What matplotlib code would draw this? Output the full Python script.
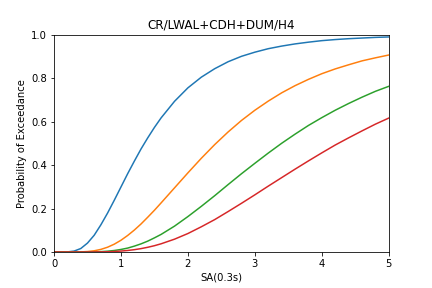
import numpy as np
from matplotlib import pyplot as plt

# intensity measure values (x axis), finer where the curves bend
sa = [0.0, 0.1, 0.2, 0.3, 0.4, 0.5, 0.6, 0.7, 0.8, 0.9, 1.0, 1.1, 1.2,
      1.3, 1.4, 1.5, 1.6, 1.8, 2.0, 2.2, 2.4, 2.6, 2.8, 3.0, 3.2, 3.4,
      3.6, 3.8, 4.0, 4.2, 4.4, 4.6, 4.8, 5.0]

# exceedance probabilities, one list per damage state
p_slight = [0.0, 0.0, 0.0004, 0.0042, 0.016, 0.041, 0.077, 0.125, 0.179,
            0.238, 0.299, 0.360, 0.418, 0.474, 0.525, 0.573, 0.617,
            0.693, 0.755, 0.804, 0.843, 0.875, 0.900, 0.919, 0.935, 0.947,
            0.957, 0.965, 0.972, 0.977, 0.981, 0.984, 0.987, 0.989]
p_moderate = [0.0, 0.0, 0.0, 0.0, 0.0005, 0.0021, 0.0056, 0.012, 0.022,
              0.036, 0.054, 0.076, 0.101, 0.129, 0.160, 0.192, 0.226,
              0.295, 0.364, 0.431, 0.494, 0.552, 0.605, 0.652, 0.694, 0.732,
              0.765, 0.794, 0.820, 0.842, 0.861, 0.879, 0.893, 0.906]
p_extensive = [0.0, 0.0, 0.0, 0.0, 0.0, 0.0002, 0.0007, 0.0017, 0.0037,
               0.0069, 0.0117, 0.018, 0.027, 0.0375, 0.050, 0.065, 0.081,
               0.119, 0.163, 0.210, 0.259, 0.310, 0.360, 0.408, 0.455, 0.500,
               0.542, 0.582, 0.618, 0.652, 0.683, 0.712, 0.739, 0.762]
p_complete = [0.0, 0.0, 0.0, 0.0, 0.0, 0.0001, 0.0002, 0.0005, 0.0012,
              0.0024, 0.0043, 0.007, 0.0107, 0.0156, 0.0217, 0.029, 0.0378,
              0.059, 0.085, 0.116, 0.149, 0.186, 0.224, 0.263, 0.303, 0.342,
              0.381, 0.419, 0.456, 0.492, 0.525, 0.557, 0.588, 0.616]

fig = plt.figure(figsize=(6, 4), dpi=72)
ax = fig.add_subplot(111)
fig.subplots_adjust(bottom=0.125)

for p in [p_slight, p_moderate, p_extensive, p_complete]:
    ax.plot(sa, p)

ax.set_xlim(0, 5)
ax.set_ylim(0, 1)
ax.set_title('CR/LWAL+CDH+DUM/H4')
ax.set_xlabel('SA(0.3s)')
ax.set_ylabel('Probability of Exceedance')

plt.savefig('out.png', dpi=72)
